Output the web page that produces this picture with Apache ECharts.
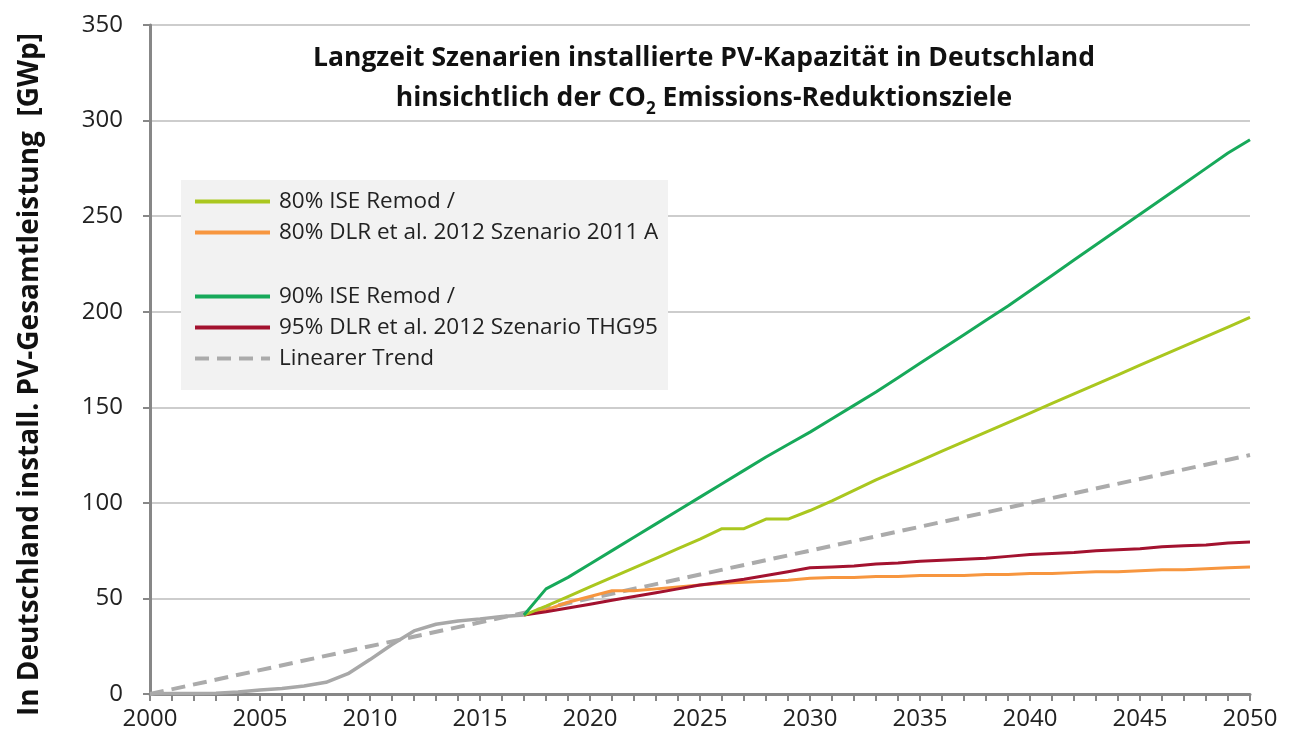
<!DOCTYPE html>
<html>
<head>
<meta charset="utf-8">
<script src="https://cdn.jsdelivr.net/npm/echarts@6/dist/echarts.min.js"></script>
<style>
html, body { margin: 0; padding: 0; background: #fff; }
#chart { width: 1289px; height: 742px; }
</style>
</head>
<body>
<div id="chart"></div>
<script>
// historische Werte (GWp)
var histYears = [2000, 2001, 2002, 2003, 2004, 2005, 2006, 2007, 2008, 2009,
    2010, 2011, 2012, 2013, 2014, 2015, 2016, 2017];
var histValues = [0.1, 0.2, 0.3, 0.4, 1.1, 2.1, 2.9, 4.2, 6.1, 10.6,
    18.0, 25.9, 33.0, 36.5, 38.2, 39.3, 40.5, 41.3];

// Szenarien ab 2017
var scenYears = [2017, 2018, 2019, 2020, 2021, 2022, 2023, 2024, 2025, 2026,
    2027, 2028, 2029, 2030, 2031, 2032, 2033, 2034, 2035, 2036,
    2037, 2038, 2039, 2040, 2041, 2042, 2043, 2044, 2045, 2046,
    2047, 2048, 2049, 2050];
var ise80 = [41.3, 46, 51, 56, 61, 66, 71, 76, 81, 86.5,
    86.5, 91.5, 91.5, 96, 101, 106.5, 112, 117, 122, 127,
    132, 137, 142, 147, 152, 157, 162, 167, 172, 177,
    182, 187, 192, 197];
var dlr80 = [41.3, 44, 48, 51, 54, 54, 55, 56, 57, 58,
    58.5, 59, 59.5, 60.5, 61, 61, 61.5, 61.5, 62, 62,
    62, 62.5, 62.5, 63, 63, 63.5, 64, 64, 64.5, 65,
    65, 65.5, 66, 66.5];
var ise90 = [41.3, 55, 61, 68, 75, 82, 89, 96, 103, 110,
    117, 124, 130.5, 137, 144, 151, 158, 165.5, 173, 180.5,
    188, 195.5, 203, 211, 219, 227, 235, 243, 251, 259,
    267, 275, 283, 290];
var dlr95 = [41.3, 43, 45, 47, 49, 51, 53, 55, 57, 58.5,
    60, 62, 64, 66, 66.5, 67, 68, 68.5, 69.5, 70,
    70.5, 71, 72, 73, 73.5, 74, 75, 75.5, 76, 77,
    77.5, 78, 79, 79.5];

// linearer Trend: Endpunkte
var trendYears = [2000, 2050];
var trendValues = [0, 125];

var names = [
    "80% ISE Remod /",
    "80% DLR et al. 2012 Szenario 2011 A",
    "90% ISE Remod /",
    "95% DLR et al. 2012 Szenario THG95",
    "Linearer Trend"
];
var colors = ["#aac71f", "#f7963f", "#17a95a", "#a3122f", "#ababab"];

function pairs(xs, ys) {
    return xs.map(function (x, i) { return [x, ys[i]]; });
}

var font = "'Open Sans', 'DejaVu Sans', sans-serif";
var chart = echarts.init(document.getElementById("chart"));

function lineSeries(name, xs, ys, color, extra) {
    var s = {
        name: name,
        type: "line",
        data: pairs(xs, ys),
        symbol: "none",
        silent: true,
        lineStyle: { color: color, width: 3 },
        itemStyle: { color: color }
    };
    if (extra) Object.assign(s.lineStyle, extra);
    return s;
}

var legendText = { fontSize: 22.5, lineHeight: 22, color: "#222", fontFamily: font, padding: [0, 0, 0, 4] };

var option = {
    animation: false,
    textStyle: { fontFamily: font },
    title: {
        left: 699,
        top: 33,
        textAlign: "center",
        text: "Langzeit Szenarien installierte PV-Kapazität in Deutschland\nhinsichtlich der CO{sub|2} Emissions-Reduktionsziele",
        textStyle: {
            fontFamily: font,
            fontSize: 26.5,
            fontWeight: "bold",
            color: "#111",
            lineHeight: 40,
            rich: {
                sub: { fontSize: 17, fontWeight: "bold", verticalAlign: "bottom", lineHeight: 30, padding: [16, 0, 0, 0] }
            }
        }
    },
    graphic: [{
        type: "rect",
        left: 181,
        top: 180,
        shape: { width: 487, height: 210 },
        style: { fill: "#f2f2f2" },
        z: 5
    }],
    legend: [{
        left: 193,
        top: 190,
        padding: 0,
        orient: "vertical",
        itemWidth: 75,
        itemHeight: 4,
        itemGap: 8,
        itemStyle: { opacity: 0 },
        lineStyle: { width: 4 },
        data: [names[0], names[1]],
        textStyle: legendText,
        z: 6
    }, {
        left: 193,
        top: 285,
        padding: 0,
        orient: "vertical",
        itemWidth: 75,
        itemHeight: 4,
        itemGap: 8,
        itemStyle: { opacity: 0 },
        lineStyle: { width: 4 },
        data: [names[2], names[3], names[4]],
        textStyle: legendText,
        z: 6
    }],
    grid: { left: 150, right: 39, top: 25, bottom: 48 },
    xAxis: {
        type: "value",
        min: 2000,
        max: 2050,
        interval: 5,
        axisLine: { lineStyle: { color: "#878787", width: 3 } },
        axisTick: { show: true, length: 7, lineStyle: { color: "#878787", width: 2 } },
        minorTick: { show: true, splitNumber: 5, length: 7, lineStyle: { color: "#878787", width: 2 } },
        axisLabel: { fontSize: 24, color: "#222", margin: 13, formatter: function (v) { return String(v); } },
        splitLine: { show: false }
    },
    yAxis: {
        type: "value",
        min: 0,
        max: 350,
        interval: 50,
        name: "In Deutschland install. PV-Gesamtleistung  [GWp]",
        nameLocation: "middle",
        nameGap: 106,
        nameTextStyle: { fontSize: 28, fontWeight: "bold", color: "#111", fontFamily: font, padding: [0, 30, 0, 0] },
        axisLine: { show: true, lineStyle: { color: "#878787", width: 3 } },
        axisTick: { show: true, length: 7, lineStyle: { color: "#878787", width: 2 } },
        axisLabel: { fontSize: 24, color: "#222", margin: 27 },
        splitLine: { lineStyle: { color: "#bdbdbd", width: 1.5 } }
    },
    series: [
        lineSeries("Historie", histYears, histValues, "#a8a8a8", { width: 3.5 }),
        lineSeries(names[4], trendYears, trendValues, colors[4], { width: 4, type: [14, 8] }),
        lineSeries(names[1], scenYears, dlr80, colors[1]),
        lineSeries(names[3], scenYears, dlr95, colors[3]),
        lineSeries(names[0], scenYears, ise80, colors[0]),
        lineSeries(names[2], scenYears, ise90, colors[2])
    ]
};

chart.setOption(option);
</script>
</body>
</html>
